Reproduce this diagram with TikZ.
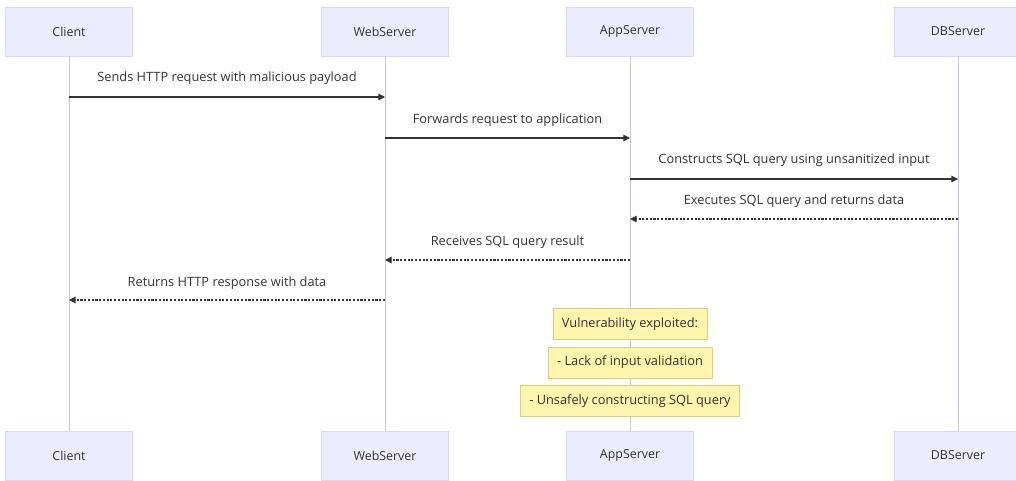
\documentclass[tikz,border=0pt]{standalone}
\usepackage{fontspec}
\setmainfont{Open Sans}
\usetikzlibrary{arrows.meta}
\definecolor{actfill}{HTML}{ECECFF}
\definecolor{actdraw}{HTML}{DCD6F2}
\definecolor{lifecol}{HTML}{C8C4E8}
\definecolor{notefill}{HTML}{FFF5AD}
\definecolor{notedraw}{HTML}{D6D07A}
\definecolor{msgcol}{HTML}{333333}
\tikzset{
  actor/.style={rectangle, fill=actfill, draw=actdraw, line width=0.6pt, minimum width=127*0.75pt, minimum height=49*0.75pt, inner sep=0pt, font=\fontsize{9.3}{11}\selectfont, text=msgcol},
  lifeline/.style={draw=lifecol, line width=0.7pt},
  msg/.style={draw=msgcol, line width=0.8pt, -{Triangle[length=5pt,width=5pt]}},
  reply/.style={msg, dash pattern=on 1.6pt off 1.2pt},
  lbl/.style={font=\fontsize{9.6}{11}\selectfont, text=msgcol, inner sep=0pt},
  note/.style={rectangle, fill=notefill, draw=notedraw, line width=0.6pt, font=\fontsize{9.6}{11}\selectfont, text=msgcol, minimum height=31*0.75pt, inner sep=0pt}
}
\begin{document}
\begin{tikzpicture}[x=0.75pt,y=-0.75pt]
\useasboundingbox (0,0) rectangle (1016,480);
\begin{scope}
\clip (0,0) rectangle (1016,480);
% actors top
\node[actor] (c1) at (69,31.5) {Client};
\node[actor] (w1) at (385,31.5) {WebServer};
\node[actor] (a1) at (630,31.5) {AppServer};
\node[actor] (d1) at (958,31.5) {DBServer};
% actors bottom
\node[actor] (c2) at (69,455.5) {Client};
\node[actor] (w2) at (385,455.5) {WebServer};
\node[actor] (a2) at (630,455.5) {AppServer};
\node[actor] (d2) at (958,455.5) {DBServer};
\end{scope}
% lifelines
\draw[lifeline] (c1.south) -- (c2.north);
\draw[lifeline] (w1.south) -- (w2.north);
\draw[lifeline] (a1.south) -- (a2.north);
\draw[lifeline] (d1.south) -- (d2.north);
% coordinates for messages
\coordinate (m1s) at (69,97);   \coordinate (m1e) at (385,97);
\coordinate (m2s) at (385,138); \coordinate (m2e) at (630,138);
\coordinate (m3s) at (630,179); \coordinate (m3e) at (958,179);
\coordinate (m4s) at (958,219); \coordinate (m4e) at (630,219);
\coordinate (m5s) at (630,260); \coordinate (m5e) at (385,260);
\coordinate (m6s) at (385,300); \coordinate (m6e) at (69,300);
\draw[msg] (m1s) -- (m1e);
\draw[msg] (m2s) -- (m2e);
\draw[msg] (m3s) -- (m3e);
\draw[reply] (m4s) -- (m4e);
\draw[reply] (m5s) -- (m5e);
\draw[reply] (m6s) -- (m6e);
\node[lbl] (l1) at (227,78) {Sends HTTP request with malicious payload};
\node[lbl] (l2) at (507.5,120) {Forwards request to application};
\node[lbl] (l3) at (794,160) {Constructs SQL query using unsanitized input};
\node[lbl] (l4) at (794,201) {Executes SQL query and returns data};
\node[lbl] (l5) at (507.5,242) {Receives SQL query result};
\node[lbl] (l6) at (227,283) {Returns HTTP response with data};
% notes
\node[note, minimum width=154*0.75pt] (n1) at (630,324) {Vulnerability exploited:};
\node[note, minimum width=164*0.75pt] (n2) at (630,362.5) {- Lack of input validation};
\node[note, minimum width=219*0.75pt] (n3) at (630,401) {- Unsafely constructing SQL query};
\end{tikzpicture}
\end{document}
